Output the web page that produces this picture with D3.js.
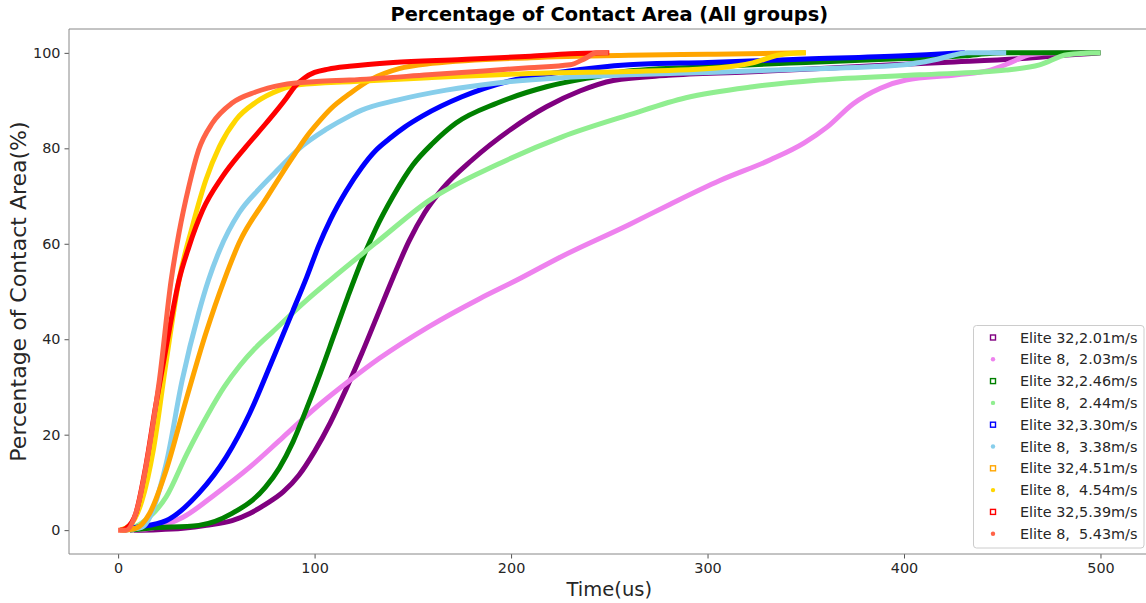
<!DOCTYPE html>
<html>
<head>
<meta charset="utf-8">
<script src="https://cdn.jsdelivr.net/npm/d3@7"></script>
<style>
  body { margin: 0; background: #fff; }
  svg { display: block; font-family: "DejaVu Sans", sans-serif; }
</style>
</head>
<body>
<svg id="chart" width="1146" height="603"></svg>
<script>
// Contact-area growth curves, time in microseconds vs. percentage of area.
const seriesNames = [
  "Elite 32,2.01m/s", "Elite 8,  2.03m/s",
  "Elite 32,2.46m/s", "Elite 8,  2.44m/s",
  "Elite 32,3.30m/s", "Elite 8,  3.38m/s",
  "Elite 32,4.51m/s", "Elite 8,  4.54m/s",
  "Elite 32,5.39m/s", "Elite 8,  5.43m/s"
];
const seriesColors = ["#800080", "#ee82ee", "#008000", "#90ee90", "#0000ff",
                      "#87ceeb", "#ffa500", "#ffd700", "#ff0000", "#ff6347"];
const seriesMarkers = ["square", "dot", "square", "dot", "square",
                       "dot", "square", "dot", "square", "dot"];

const e32_201_t = [8, 20, 33, 45, 58, 67, 75, 84, 92, 100, 108, 116, 124, 132, 140, 148, 156, 165, 180, 200, 218, 235, 252, 280, 320, 370, 420, 460, 485, 500];
const e32_201_a = [0, 0.1, 0.4, 1, 2, 3.5, 5.4, 8, 11.5, 16.5, 22.5, 29.5, 37, 45, 53, 60.5, 66.5, 71.5, 77.5, 84, 88.7, 92, 94.2, 95.3, 96, 97, 98, 98.8, 99.6, 100];

const e8_203_t = [6, 19, 33, 50, 67, 84, 101, 118, 133, 158, 184, 203, 226, 260, 281, 306, 332, 349, 361, 374, 388, 401, 427, 444, 455, 464, 478, 492];
const e8_203_a = [0, 0.6, 2.7, 7.7, 13.2, 19.5, 25.8, 31.4, 36, 42.6, 48.5, 52.4, 57.4, 64, 68.3, 73.2, 77.6, 81.1, 84.5, 89.3, 92.6, 94.3, 95.4, 96.4, 98.1, 99.6, 100, 100];

const e32_246_t = [6, 16, 41, 58, 75, 82, 89, 96, 103, 110, 117, 124, 131, 140, 150, 160, 172, 193, 218, 243, 260, 300, 350, 400, 431, 445, 452, 500];
const e32_246_a = [0, 0.4, 1, 3.5, 9, 13, 18.5, 25.5, 33, 41, 49, 56.5, 63, 70, 76.5, 81, 85.3, 89.5, 92.9, 95, 96.2, 97.1, 98, 98.8, 99.4, 99.9, 100, 100];

const e8_244_t = [4, 12, 24.5, 35, 46, 54, 62, 70, 78.5, 96, 108, 133, 158, 193, 226, 260, 289, 323, 357, 408, 452, 469, 483, 500];
const e8_244_a = [0, 1.5, 7, 16, 24.5, 30, 34.5, 38.2, 41.5, 48.2, 52.4, 60.8, 69, 76.6, 82.4, 87, 90.6, 92.9, 94.3, 95.4, 96.4, 97.5, 99.6, 100];

const e32_330_t = [3, 7, 24.5, 41, 55, 67, 78.5, 89, 96, 102, 108, 116, 124, 131, 138, 146, 155, 175, 201, 226, 260, 300, 350, 400, 425, 431];
const e32_330_a = [0, 0.4, 2, 7.7, 15.3, 24.5, 35.6, 46, 53, 59.5, 65, 71, 76, 79.5, 82, 84.5, 86.8, 90.8, 94.3, 96, 97.5, 98, 98.7, 99.4, 99.9, 100];

const e8_338_t = [2, 12, 24.5, 32.6, 41, 46, 51.5, 61.6, 71.8, 82, 92, 106, 118, 124, 142, 167, 193, 226, 260, 300, 350, 400, 415, 425, 432, 452];
const e8_338_a = [0, 0.6, 14, 31.4, 45.5, 52.4, 58.5, 66.5, 71.5, 75.8, 79.9, 84, 86.8, 88, 90.1, 92.2, 93.7, 94.8, 95.4, 95.9, 96.6, 97.5, 98.5, 99.5, 100, 100];

const e32_451_t = [2, 9, 16, 24.5, 34.6, 44.7, 54, 61.6, 75.4, 88.6, 96, 102, 108, 118, 129, 143, 160, 210, 260, 300, 350];
const e32_451_a = [0, 0.4, 3.5, 12.6, 27.3, 41.3, 52.4, 60.2, 69.5, 78, 82.5, 85.5, 88.2, 91.5, 94.5, 96.7, 97.8, 99, 99.5, 99.7, 100];

const e8_454_t = [1, 6, 12, 18, 24, 31, 37.7, 44.7, 51.5, 60, 70.3, 82, 92, 120, 158, 218, 260, 306, 323, 337, 350];
const e8_454_a = [0, 1, 6, 17, 34, 52.4, 63.5, 73.4, 80.3, 86, 89.7, 92.2, 93.3, 94, 94.8, 95.8, 96.1, 96.9, 97.9, 99.6, 100];

const e32_539_t = [1, 4, 9, 14, 19, 24.5, 31, 36, 43, 53, 65, 75.4, 85.6, 90, 95, 100, 107, 117.7, 140, 175, 210, 230, 250];
const e32_539_a = [0, 0.4, 3.5, 13.2, 25.8, 38.4, 52.4, 59.3, 67, 74, 80.3, 85.3, 90.5, 93, 94.8, 95.9, 96.6, 97.2, 98, 98.6, 99.3, 99.8, 100];

const e8_543_t = [0, 4, 9, 17.3, 21, 27, 31, 36, 41, 48, 58, 70, 83.5, 101, 117.7, 158, 209, 230, 238, 243.5, 249.6];
const e8_543_a = [0, 0, 3.5, 21, 31.4, 52.4, 62.3, 72, 79.7, 85.3, 89.5, 91.8, 93.3, 94, 94.3, 95.4, 96.9, 97.5, 98.9, 100, 100];

const seriesTimes = [e32_201_t, e8_203_t, e32_246_t, e8_244_t, e32_330_t,
                     e8_338_t, e32_451_t, e8_454_t, e32_539_t, e8_543_t];
const seriesAreas = [e32_201_a, e8_203_a, e32_246_a, e8_244_a, e32_330_a,
                     e8_338_a, e32_451_a, e8_454_a, e32_539_a, e8_543_a];

const xTicks = [0, 100, 200, 300, 400, 500];
const yTicks = [0, 20, 40, 60, 80, 100];

const svg = d3.select("#chart");
const plot = { left: 69, right: 1149.6, top: 29, bottom: 554 };

const x = d3.scaleLinear().domain([-25, 525]).range([plot.left, plot.right]);
const y = d3.scaleLinear().domain([-5, 105]).range([plot.bottom, plot.top]);

// Curves
const line = d3.line()
  .x(d => x(d[0]))
  .y(d => y(d[1]))
  .curve(d3.curveMonotoneX);

const curves = svg.append("g");
seriesNames.forEach((name, i) => {
  const pts = d3.zip(seriesTimes[i], seriesAreas[i]);
  curves.append("path")
    .datum(pts)
    .attr("d", line)
    .attr("fill", "none")
    .attr("stroke", seriesColors[i])
    .attr("stroke-width", 5)
    .attr("stroke-linejoin", "round");
});

// Axes
const xAxis = svg.append("g")
  .attr("transform", `translate(0,${plot.bottom})`)
  .call(d3.axisBottom(x).tickValues(xTicks).tickSize(4.5).tickPadding(4));
const yAxis = svg.append("g")
  .attr("transform", `translate(${plot.left},0)`)
  .call(d3.axisLeft(y).tickValues(yTicks).tickSize(4.5).tickPadding(4));

[xAxis, yAxis].forEach(g => {
  g.selectAll(".domain").remove();
  g.selectAll(".tick line").attr("stroke", "#555");
  g.selectAll(".tick text")
    .attr("fill", "#262626")
    .style("font-size", "14.4px")
    .style("font-family", "'DejaVu Sans', sans-serif");
});

// Frame (left, top and bottom spines)
svg.append("path")
  .attr("d", `M${plot.right},${plot.top}H${plot.left}V${plot.bottom}H${plot.right}`)
  .attr("fill", "none")
  .attr("stroke", "#888")
  .attr("stroke-width", 1);

// Title and axis labels
svg.append("text")
  .attr("x", (plot.left + plot.right) / 2)
  .attr("y", 21)
  .attr("text-anchor", "middle")
  .style("font-size", "19.4px")
  .style("font-weight", "bold")
  .text("Percentage of Contact Area (All groups)");

svg.append("text")
  .attr("x", (plot.left + plot.right) / 2)
  .attr("y", 596)
  .attr("text-anchor", "middle")
  .style("font-size", "19.5px")
  .attr("fill", "#262626")
  .text("Time(us)");

svg.append("text")
  .attr("transform", `translate(26,${(plot.top + plot.bottom) / 2}) rotate(-90)`)
  .attr("text-anchor", "middle")
  .style("font-size", "22px")
  .attr("fill", "#262626")
  .text("Percentage of Contact Area(%)");

// Legend
const legend = svg.append("g");
legend.append("rect")
  .attr("x", 973.5).attr("y", 325.5)
  .attr("width", 170.5).attr("height", 222.5)
  .attr("rx", 3)
  .attr("fill", "#fff").attr("fill-opacity", 0.8)
  .attr("stroke", "#ccc");

seriesNames.forEach((name, i) => {
  const cy = 337.5 + i * 21.8;
  if (seriesMarkers[i] === "square") {
    legend.append("rect")
      .attr("x", 990.5).attr("y", cy - 2.5)
      .attr("width", 5).attr("height", 5)
      .attr("fill", "none")
      .attr("stroke", seriesColors[i])
      .attr("stroke-width", 1.4);
  } else {
    legend.append("circle")
      .attr("cx", 993).attr("cy", cy)
      .attr("r", 2.2)
      .attr("fill", seriesColors[i]);
  }
  legend.append("text")
    .attr("x", 1020)
    .attr("y", cy)
    .attr("dy", "0.36em")
    .style("font-size", "14.4px")
    .attr("fill", "#262626")
    .style("white-space", "pre")
    .attr("xml:space", "preserve")
    .text(name);
});
</script>
</body>
</html>
